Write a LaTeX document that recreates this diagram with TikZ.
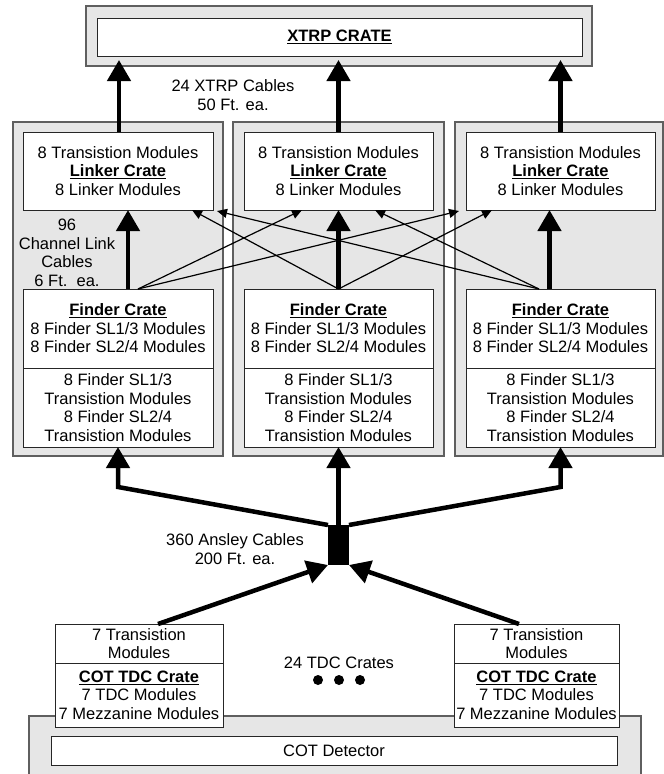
\documentclass[tikz,border=0pt]{standalone}
\usepackage{fontspec}
\setmainfont{Liberation Sans}
\usetikzlibrary{arrows.meta,calc}
\definecolor{panelgray}{RGB}{230,230,230}
\definecolor{edgegray}{RGB}{95,95,95}
\begin{document}
\begin{tikzpicture}[x=1pt,y=-1pt,
  every node/.style={inner sep=0pt, outer sep=0pt},
  txt/.style={font=\fontsize{16.5}{18.5}\selectfont, align=center},
  panel/.style={draw=edgegray, fill=panelgray, line width=1.3pt},
  wbox/.style={draw=black!85, fill=white, line width=1pt, txt},
  bigarrow/.style={line width=4.5pt, -{Triangle[width=23pt,length=21pt]}},
  thinarrow/.style={line width=1.2pt, -{Triangle[width=9pt,length=10pt]}},
  dot/.style={circle, fill=black, minimum size=10pt}
]
\useasboundingbox (0,0) rectangle (664,774);

% XTRP crate
\node[panel, minimum width=506pt, minimum height=60pt] (xtrpOut) at (339,36) {};
\node[wbox, minimum width=485pt, minimum height=38pt] (xtrp) at (339.5,37) {\underline{\textbf{XTRP CRATE}}};

% panels
\node[panel, minimum width=210pt, minimum height=334pt] (panelL) at (118,289) {};
\node[panel, minimum width=211pt, minimum height=334pt] (panelM) at (338.5,289) {};
\node[panel, minimum width=208pt, minimum height=334pt] (panelR) at (559,289) {};

% linker crates
\node[wbox, minimum width=190pt, minimum height=78pt] (linkL) at (118,171) {8 Transistion Modules\\\underline{\textbf{Linker Crate}}\\8 Linker Modules};
\node[wbox, minimum width=189pt, minimum height=78pt] (linkM) at (338.5,171) {8 Transistion Modules\\\underline{\textbf{Linker Crate}}\\8 Linker Modules};
\node[wbox, minimum width=189pt, minimum height=78pt] (linkR) at (560.5,171) {8 Transistion Modules\\\underline{\textbf{Linker Crate}}\\8 Linker Modules};

% finder crates
\node[wbox, minimum width=190pt, minimum height=79pt] (findLt) at (118,328.5) {\underline{\textbf{Finder Crate}}\\8 Finder SL1/3 Modules\\8 Finder SL2/4 Modules};
\node[wbox, minimum width=190pt, minimum height=79pt] (findLb) at (118,407.5) {8 Finder SL1/3\\Transistion Modules\\8 Finder SL2/4\\Transistion Modules};
\node[wbox, minimum width=189pt, minimum height=79pt] (findMt) at (338.5,328.5) {\underline{\textbf{Finder Crate}}\\8 Finder SL1/3 Modules\\8 Finder SL2/4 Modules};
\node[wbox, minimum width=189pt, minimum height=79pt] (findMb) at (338.5,407.5) {8 Finder SL1/3\\Transistion Modules\\8 Finder SL2/4\\Transistion Modules};
\node[wbox, minimum width=189pt, minimum height=79pt] (findRt) at (560.5,328.5) {\underline{\textbf{Finder Crate}}\\8 Finder SL1/3 Modules\\8 Finder SL2/4 Modules};
\node[wbox, minimum width=189pt, minimum height=79pt] (findRb) at (560.5,407.5) {8 Finder SL1/3\\Transistion Modules\\8 Finder SL2/4\\Transistion Modules};

% COT detector
\node[panel, minimum width=612pt, minimum height=70pt, anchor=north west] (cotOut) at (29,716) {};
\node[wbox, minimum width=566pt, minimum height=29pt] (cot) at (334,750.5) {COT Detector};

% TDC crates
\node[wbox, minimum width=168pt, minimum height=39pt] (tdcLt) at (139,643.5) {7 Transistion\\Modules};
\node[wbox, minimum width=168pt, minimum height=64pt] (tdcLb) at (139,695) {\underline{\textbf{COT TDC Crate}}\\7 TDC Modules\\7 Mezzanine Modules};
\node[wbox, minimum width=165pt, minimum height=39pt] (tdcRt) at (536.5,643.5) {7 Transistion\\Modules};
\node[wbox, minimum width=165pt, minimum height=64pt] (tdcRb) at (536.5,695) {\underline{\textbf{COT TDC Crate}}\\7 TDC Modules\\7 Mezzanine Modules};

% junction
\node[fill=black, minimum width=21pt, minimum height=40pt] (junc) at (338.5,545) {};

% labels
\node[txt] (lblXtrp) at (233,95) {24 XTRP Cables\\50 Ft. ea.};
\node[txt] (lblLink) at (67,253) {96\\Channel Link\\Cables\\6 Ft.~~ea.};
\node[txt] (lblAns) at (235,549) {360 Ansley Cables\\200 Ft. ea.};
\node[txt] (lblTdc) at (339,663) {24 TDC Crates};
\node[dot] (dot1) at (318,680) {};
\node[dot] (dot2) at (339,680) {};
\node[dot] (dot3) at (360,680) {};

% linker -> XTRP
\draw[bigarrow, shorten >=4pt] ([xshift=1pt]linkL.north) -- ([xshift=1pt]linkL.north |- xtrp.south);
\draw[bigarrow, shorten >=4pt] (linkM.north) -- (linkM.north |- xtrp.south);
\draw[bigarrow, shorten >=4pt] (linkR.north) -- (linkR.north |- xtrp.south);

% finder -> linker (own crate)
\draw[bigarrow] ([xshift=10pt]findLt.north) -- ([xshift=10pt]linkL.south);
\draw[bigarrow] (findMt.north) -- (linkM.south);
\draw[bigarrow] ([xshift=-11pt]findRt.north) -- ([xshift=-11pt]linkR.south);

% channel links (cross)
\draw[thinarrow] ([xshift=20pt]findLt.north) -- ([xshift=-36.5pt]linkM.south);
\draw[thinarrow] ([xshift=20pt]findLt.north) -- ([xshift=-7pt,yshift=-1pt]linkR.south west);
\draw[thinarrow] (findMt.north) -- ([xshift=74pt]linkL.south);
\draw[thinarrow] (findMt.north) -- ([xshift=-68.5pt]linkR.south);
\draw[thinarrow] ([xshift=-21.5pt]findRt.north) -- ([xshift=36.5pt]linkM.south);
\draw[thinarrow] ([xshift=-21.5pt]findRt.north) -- ([xshift=4pt,yshift=-1pt]linkL.south east);

% Ansley cables
\draw[bigarrow] (junc.north west) -- ($(findLb.south)+(0,40)$) -- (findLb.south);
\draw[bigarrow] (junc.north) -- (findMb.south);
\draw[bigarrow] (junc.north east) -- ($(findRb.south)+(0,40)$) -- (findRb.south);
\draw[bigarrow] ([xshift=19pt]tdcLt.north) -- (junc.south west);
\draw[bigarrow] ([xshift=-17.5pt]tdcRt.north) -- (junc.south east);
\end{tikzpicture}
\end{document}
